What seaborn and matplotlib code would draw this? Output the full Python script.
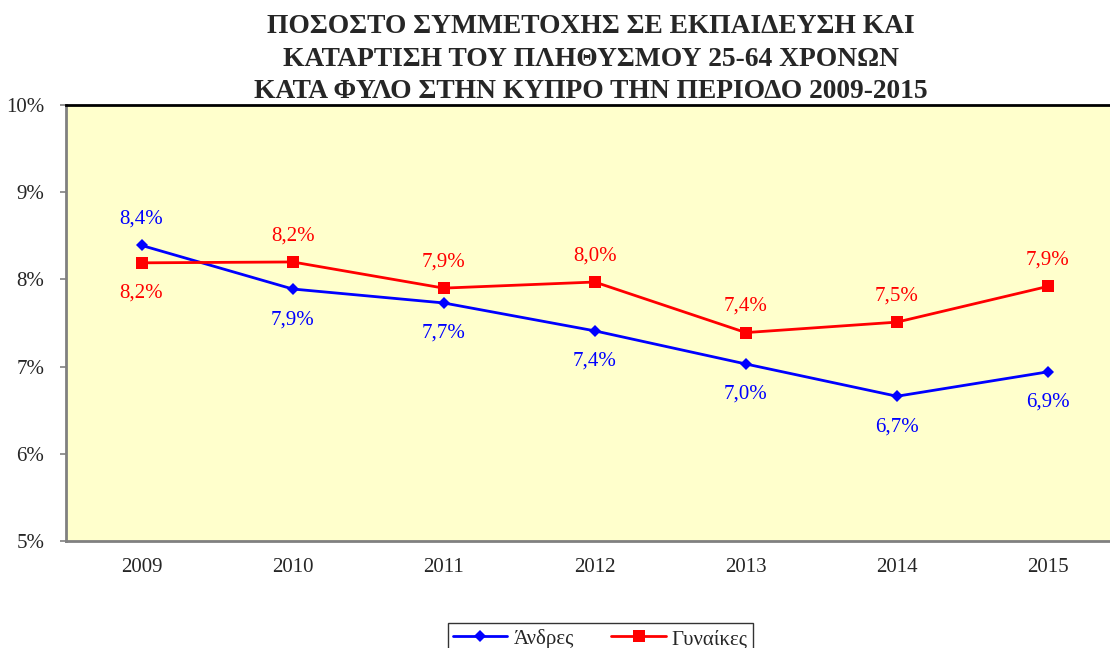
import numpy as np
import pandas as pd
import seaborn as sns
import matplotlib.pyplot as plt
from matplotlib.ticker import FixedLocator, PercentFormatter

years = [2009, 2010, 2011, 2012, 2013, 2014, 2015]
men = [8.4, 7.9, 7.7, 7.4, 7.0, 6.7, 6.9]
women = [8.2, 8.2, 7.9, 8.0, 7.4, 7.5, 7.9]
# exact plotted values (labels are rounded)
men_pos = [8.39, 7.89, 7.73, 7.41, 7.03, 6.66, 6.94]
women_pos = [8.19, 8.20, 7.90, 7.97, 7.39, 7.51, 7.92]
men_label_above = [True, False, False, False, False, False, False]
women_label_above = [False, True, True, True, True, True, True]

sns.set_style("white")
plt.rcParams['font.family'] = ['Liberation Serif', 'DejaVu Serif']

df = pd.concat([
    pd.DataFrame({"year": years, "value": men_pos, "sex": "Άνδρες"}),
    pd.DataFrame({"year": years, "value": women_pos, "sex": "Γυναίκες"}),
])

fig = plt.figure(figsize=(11.1, 6.48), dpi=100)
ax = fig.add_axes([66 / 1110, 1 - 541 / 648, 1057.5 / 1110, 436 / 648])
ax.set_facecolor("#FFFFCC")

sns.lineplot(data=df[df.sex == "Άνδρες"], x="year", y="value", color="#0000FF",
             marker="D", markersize=6, linewidth=2, markeredgewidth=0,
             label="Άνδρες", ax=ax)
sns.lineplot(data=df[df.sex == "Γυναίκες"], x="year", y="value", color="#FF0000",
             marker="s", markersize=8, linewidth=2, markeredgewidth=0,
             label="Γυναίκες", ax=ax)

for vals, pos, above, col in [(men, men_pos, men_label_above, "#0000FF"),
                              (women, women_pos, women_label_above, "#FF0000")]:
    for x, v, p, a in zip(years, vals, pos, above):
        ax.annotate(f"{v:.1f}%".replace(".", ","), (x, p),
                    xytext=(0, 19 if a else -22), textcoords="offset points",
                    ha="center", va="center", color=col, fontsize=15)

ax.set_xlim(2008.5, 2015.5)
ax.set_ylim(5, 10)
ax.xaxis.set_major_locator(FixedLocator(years))
ax.xaxis.set_minor_locator(FixedLocator([y + 0.5 for y in years[:-1]]))
ax.yaxis.set_major_locator(FixedLocator([5, 6, 7, 8, 9, 10]))
ax.yaxis.set_major_formatter(PercentFormatter(decimals=0))
ax.tick_params(axis="x", which="major", length=0, pad=12, labelsize=15)
ax.tick_params(axis="x", which="minor", length=4.5, width=1.2, color="#808080", direction="out")
ax.tick_params(axis="y", length=4.5, width=1.2, color="#808080", direction="out",
               pad=11, labelsize=15, left=True)
ax.set_xlabel("")
ax.set_ylabel("")

for side in ["left", "bottom"]:
    ax.spines[side].set_color("#808080")
    ax.spines[side].set_linewidth(2)
ax.spines["top"].set_color("black")
ax.spines["top"].set_linewidth(2)
ax.spines["right"].set_visible(False)

ax.legend_.remove()
handles, labels = ax.get_legend_handles_labels()
leg = fig.legend(handles, labels, loc="upper center", bbox_to_anchor=(0.541, 1 - 613 / 648),
                 ncol=2, frameon=True, fontsize=15, fancybox=False, edgecolor="black",
                 handlelength=2.6, handletextpad=0.3, columnspacing=1.8, borderpad=0.25)
leg.get_frame().set_linewidth(1)

fig.text(0.532, 0.978, "ΠΟΣΟΣΤΟ ΣΥΜΜΕΤΟΧΗΣ ΣΕ ΕΚΠΑΙΔΕΥΣΗ ΚΑΙ\nΚΑΤΑΡΤΙΣΗ ΤΟΥ ΠΛΗΘΥΣΜΟΥ 25-64 ΧΡΟΝΩΝ\nΚΑΤΑ ΦΥΛΟ ΣΤΗΝ ΚΥΠΡΟ ΤΗΝ ΠΕΡΙΟΔΟ 2009-2015",
         ha="center", va="top", fontsize=19.8, fontweight="bold", linespacing=1.4)

fig.savefig("out.png", dpi=100)
